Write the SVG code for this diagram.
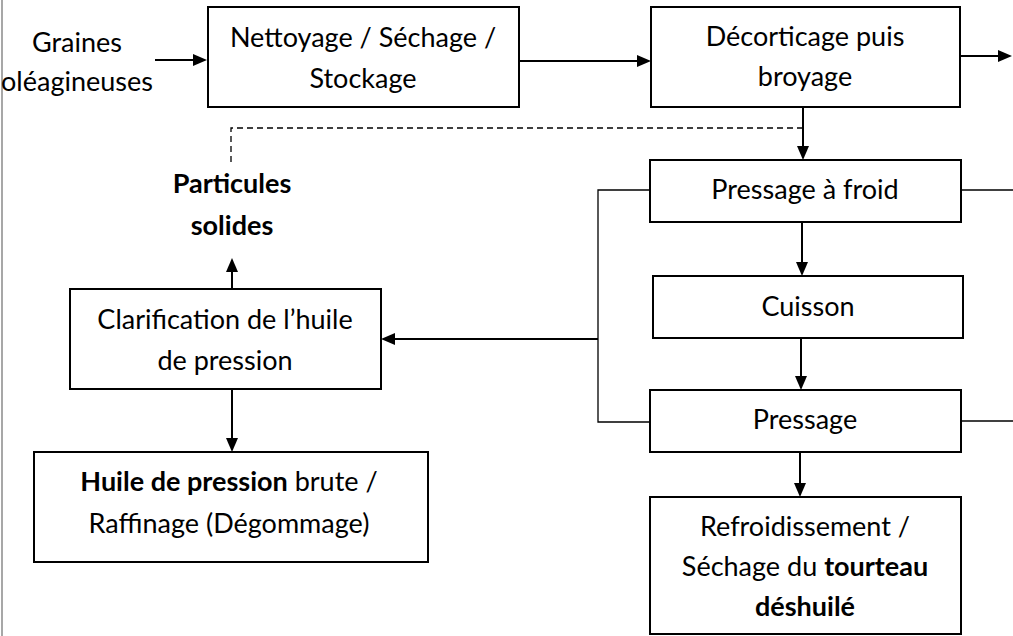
<svg xmlns="http://www.w3.org/2000/svg" width="1013" height="636" viewBox="0 0 1013 636">
<style>
  .box{fill:#fff;stroke:#000;stroke-width:2}
  .t{font-family:Lato,"Liberation Sans",sans-serif;font-size:27px;fill:#000;text-anchor:middle}
  .b{font-weight:bold}
  .ln{stroke:#000;stroke-width:2;fill:none}
  .thin{stroke:#000;stroke-width:1.3;fill:none}
  .dash{stroke:#000;stroke-width:1.3;fill:none;stroke-dasharray:6 4}
</style>
<rect width="1013" height="636" fill="#fff"/>
<line x1="2" y1="0" x2="2" y2="636" stroke="#8a8a8a" stroke-width="1.5"/>

<g id="connectors">
  <line class="ln" x1="155" y1="60" x2="194" y2="60"/>
  <path d="M193,54 L207,60 L193,66 z"/>
  <line class="ln" x1="519" y1="61" x2="638" y2="61"/>
  <path d="M637,55 L651,61 L637,67 z"/>
  <line class="ln" x1="960" y1="56" x2="999" y2="56"/>
  <path d="M998,50 L1012,56 L998,62 z"/>
  <line class="ln" x1="803" y1="107" x2="803" y2="147"/>
  <path d="M797,146 L803,160 L809,146 z"/>
  <path class="dash" d="M803,128 H231 V165"/>
  <line class="ln" x1="232" y1="289" x2="232" y2="271"/>
  <path d="M226,272 L232,258 L238,272 z"/>
  <line class="ln" x1="802" y1="222" x2="802" y2="263"/>
  <path d="M796,262 L802,276 L808,262 z"/>
  <line class="ln" x1="801" y1="338" x2="801" y2="377"/>
  <path d="M795,376 L801,390 L807,376 z"/>
  <line class="ln" x1="800" y1="452" x2="800" y2="484"/>
  <path d="M794,483 L800,497 L806,483 z"/>
  <path class="thin" d="M650,190 H598 V422 H650"/>
  <line class="ln" x1="598" y1="339" x2="394" y2="339"/>
  <path d="M395,333 L381,339 L395,345 z"/>
  <line class="thin" x1="961" y1="190" x2="1013" y2="190"/>
  <line class="thin" x1="961" y1="421" x2="1013" y2="421"/>
  <line class="ln" x1="232" y1="389" x2="232" y2="439"/>
  <path d="M226,438 L232,452 L238,438 z"/>
</g>

<g id="graines">
  <text class="t" x="77" y="52">Graines</text>
  <text class="t" x="77" y="91">oléagineuses</text>
</g>
<g id="nettoyage">
  <rect class="box" x="208" y="7" width="311" height="100"/>
  <text class="t" x="363" y="47">Nettoyage / Séchage /</text>
  <text class="t" x="363" y="88">Stockage</text>
</g>
<g id="decorticage">
  <rect class="box" x="651" y="7" width="309" height="100"/>
  <text class="t" x="805" y="46">Décorticage puis</text>
  <text class="t" x="805" y="86">broyage</text>
</g>
<g id="pressage-froid">
  <rect class="box" x="650" y="160" width="311" height="62"/>
  <text class="t" x="805" y="199">Pressage à froid</text>
</g>
<g id="cuisson">
  <rect class="box" x="653" y="276" width="310" height="62"/>
  <text class="t" x="808" y="316">Cuisson</text>
</g>
<g id="pressage">
  <rect class="box" x="650" y="390" width="311" height="62"/>
  <text class="t" x="805" y="429">Pressage</text>
</g>
<g id="refroidissement">
  <rect class="box" x="650" y="497" width="311" height="137"/>
  <text class="t" x="805" y="536">Refroidissement /</text>
  <text class="t" x="805" y="576">Séchage du <tspan class="b">tourteau</tspan></text>
  <text class="t b" x="805" y="616">déshuilé</text>
</g>
<g id="particules">
  <text class="t b" x="232" y="193">Particules</text>
  <text class="t b" x="232" y="235">solides</text>
</g>
<g id="clarification">
  <rect class="box" x="70" y="289" width="311" height="100"/>
  <text class="t" x="225" y="329">Clarification de l’huile</text>
  <text class="t" x="225" y="370">de pression</text>
</g>
<g id="huile">
  <rect class="box" x="34" y="452" width="394" height="110"/>
  <text class="t" x="229" y="491"><tspan class="b">Huile de pression</tspan> brute /</text>
  <text class="t" x="229" y="533">Raffinage (Dégommage)</text>
</g>
</svg>
